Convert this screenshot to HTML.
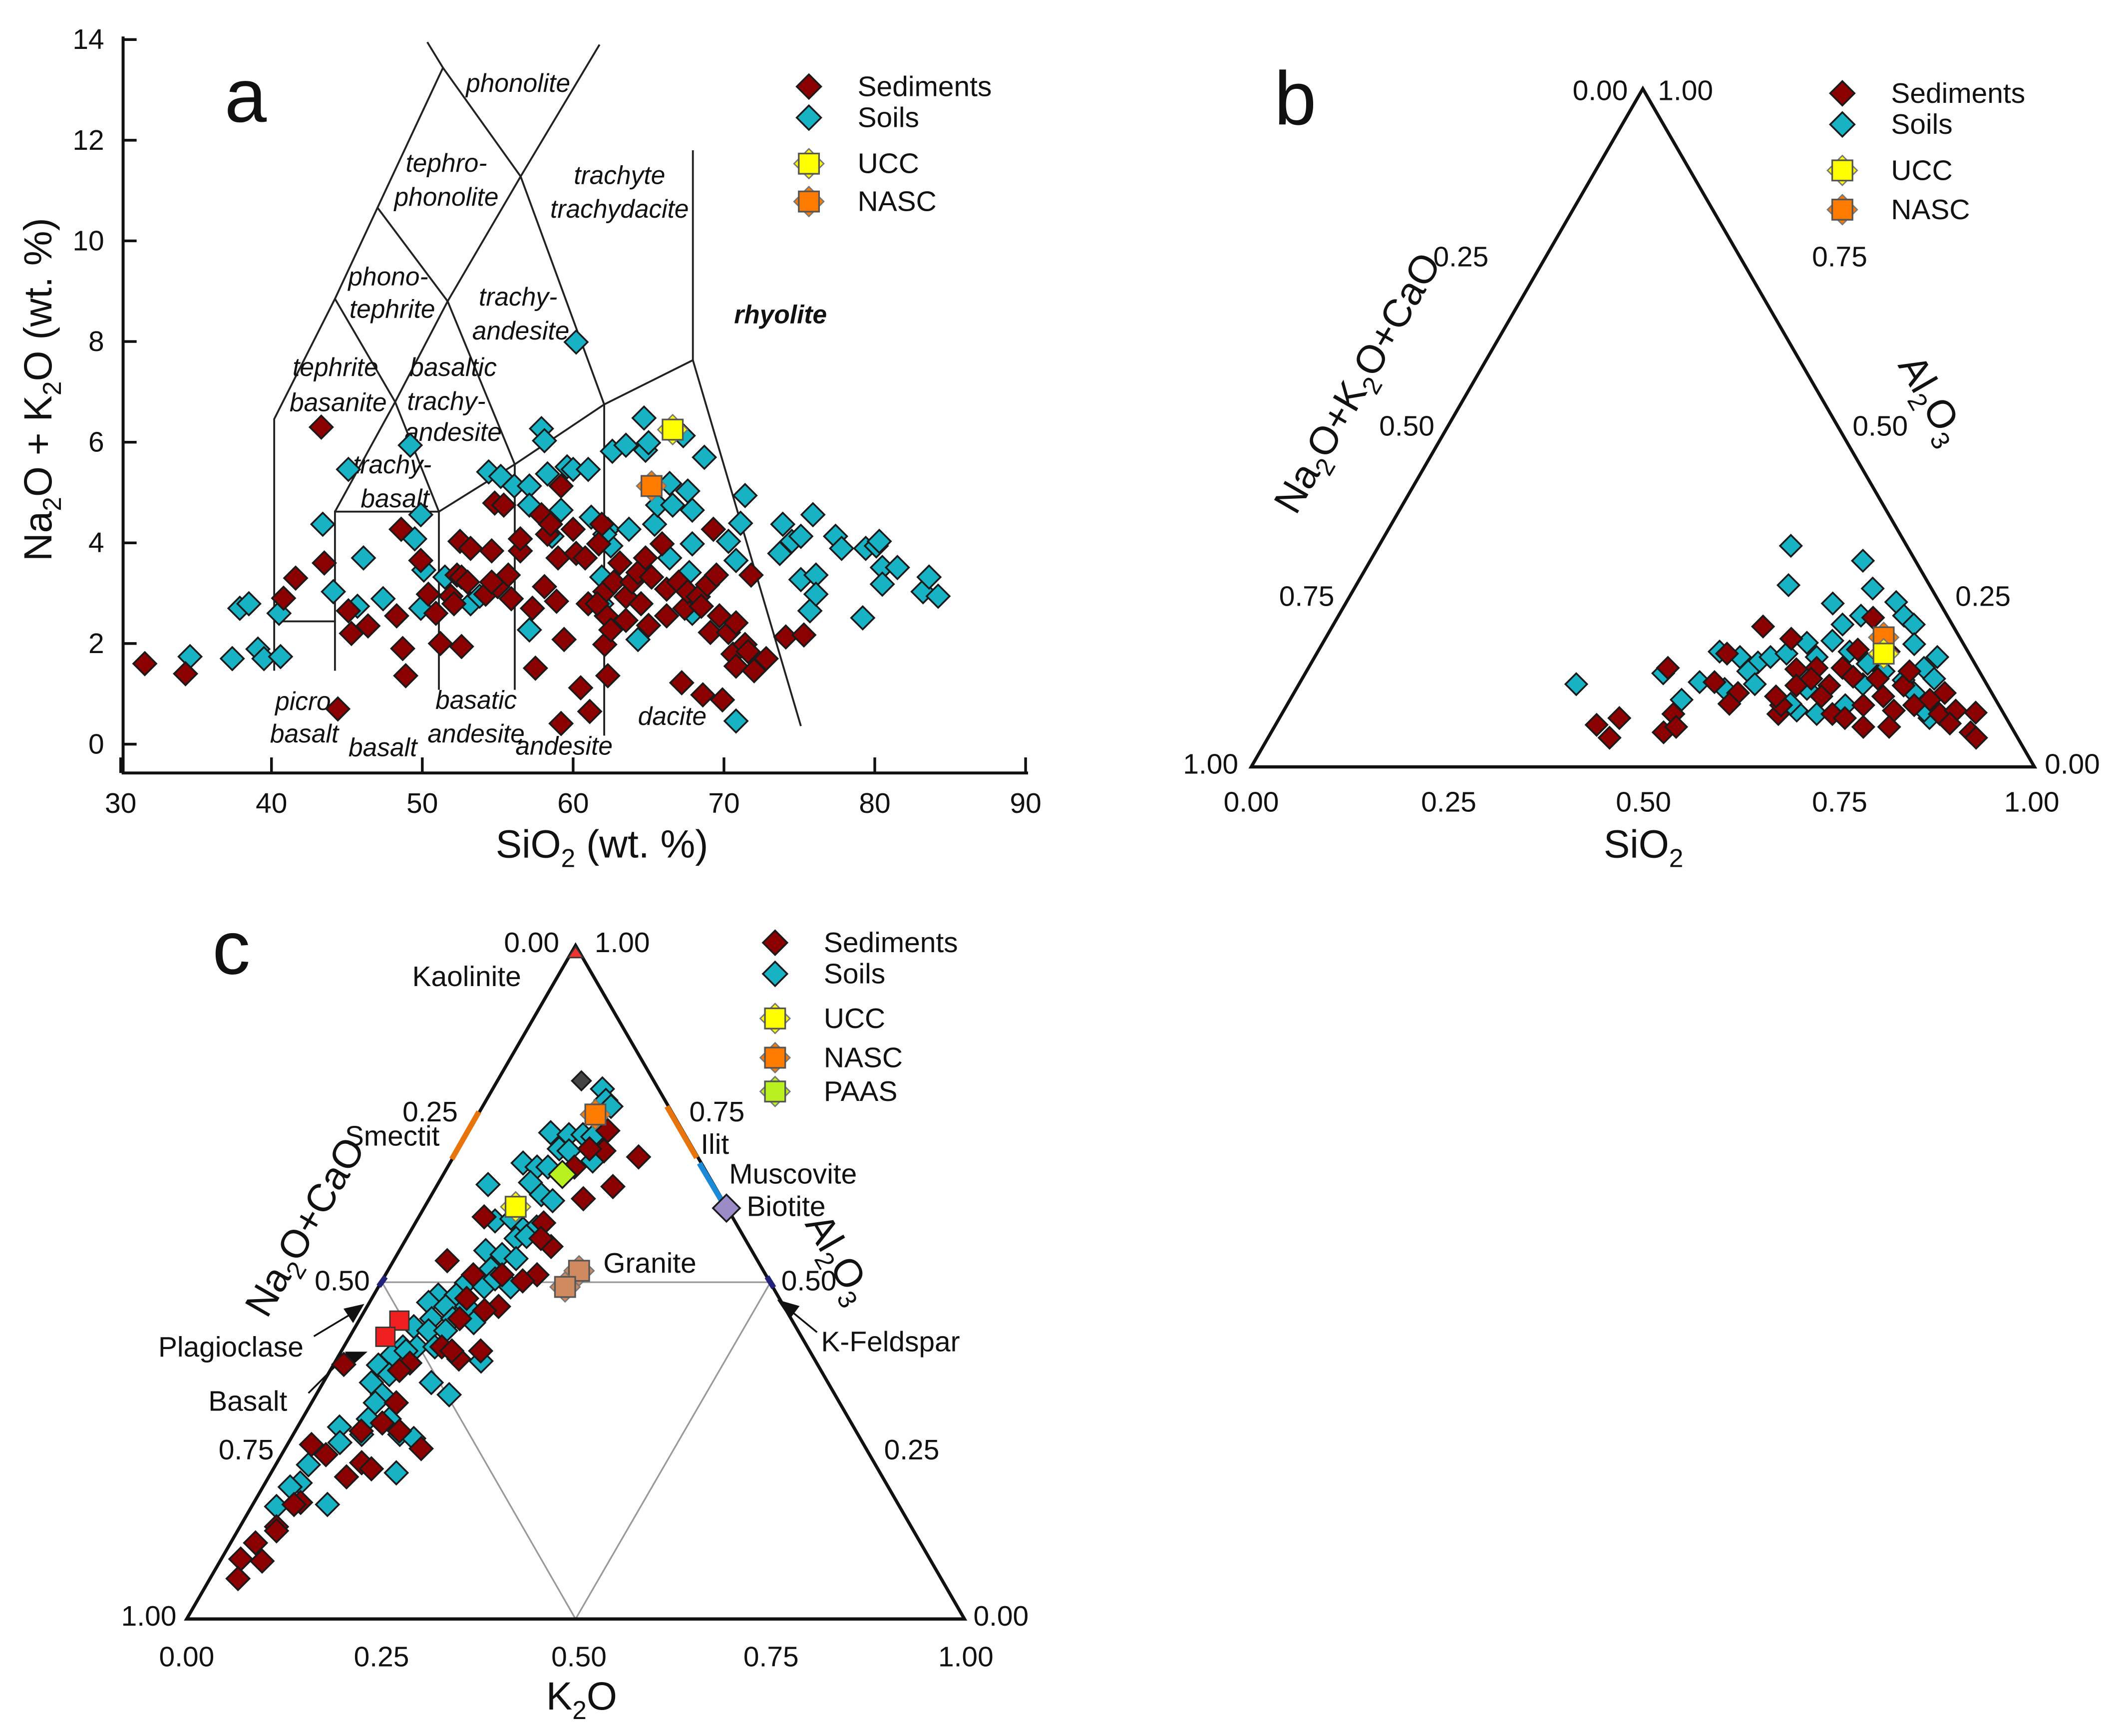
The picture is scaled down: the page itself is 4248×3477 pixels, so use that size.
<!DOCTYPE html>
<html><head><meta charset="utf-8"><title>Geochemical classification diagrams</title>
<style>
html,body{margin:0;padding:0;background:#fff;}
svg{display:block;font-family:"Liberation Sans",Arial,sans-serif;}
.tk{font-size:21px;fill:#111;}
.rl{font-size:19px;font-style:italic;fill:#111;}
.lg{font-size:21px;fill:#111;}
.ax{font-size:29px;fill:#111;}
</style></head>
<body>
<svg id="fig" xmlns="http://www.w3.org/2000/svg" width="4248" height="3477" viewBox="0 0 1568 1283.5" preserveAspectRatio="none">
<rect x="0" y="0" width="1568" height="1283.5" fill="#fff"/>

<g id="pa">
  <text x="166" y="90" font-size="56" fill="#111">a</text>
  <line x1="91" y1="27" x2="91" y2="572" stroke="#111" stroke-width="2.2"/>
  <line x1="90" y1="571.5" x2="760" y2="571.5" stroke="#111" stroke-width="2.2"/>
  <g id="pa-ticks"></g>
  <g id="pa-bound"></g>
  <g>
    <text class="rl" x="383" y="68" text-anchor="middle">phonolite</text>
    <text class="rl" x="330" y="127" text-anchor="middle">tephro-</text>
    <text class="rl" x="330" y="152" text-anchor="middle">phonolite</text>
    <text class="rl" x="458" y="136" text-anchor="middle">trachyte</text>
    <text class="rl" x="458" y="161" text-anchor="middle">trachydacite</text>
    <text class="rl" x="287" y="211" text-anchor="middle">phono-</text>
    <text class="rl" x="290" y="235" text-anchor="middle">tephrite</text>
    <text class="rl" x="383" y="226" text-anchor="middle">trachy-</text>
    <text class="rl" x="385" y="251" text-anchor="middle">andesite</text>
    <text class="rl" x="577" y="239" text-anchor="middle" font-weight="bold">rhyolite</text>
    <text class="rl" x="248" y="278" text-anchor="middle">tephrite</text>
    <text class="rl" x="250" y="304" text-anchor="middle">basanite</text>
    <text class="rl" x="335" y="278" text-anchor="middle">basaltic</text>
    <text class="rl" x="330" y="303" text-anchor="middle">trachy-</text>
    <text class="rl" x="335" y="326" text-anchor="middle">andesite</text>
    <text class="rl" x="290" y="350" text-anchor="middle">trachy-</text>
    <text class="rl" x="292" y="375" text-anchor="middle">basalt</text>
    <text class="rl" x="224" y="525" text-anchor="middle">picro</text>
    <text class="rl" x="225" y="549" text-anchor="middle">basalt</text>
    <text class="rl" x="283" y="559" text-anchor="middle">basalt</text>
    <text class="rl" x="352" y="524" text-anchor="middle">basatic</text>
    <text class="rl" x="352" y="549" text-anchor="middle">andesite</text>
    <text class="rl" x="417" y="558" text-anchor="middle">andesite</text>
    <text class="rl" x="497" y="536" text-anchor="middle">dacite</text>
  </g>
  <text class="ax" transform="translate(38,288) rotate(-90)" text-anchor="middle">Na<tspan font-size="19" dy="7">2</tspan><tspan dy="-7">O + K</tspan><tspan font-size="19" dy="7">2</tspan><tspan dy="-7">O (wt. %)</tspan></text>
  <text class="ax" x="445" y="634" text-anchor="middle">SiO<tspan font-size="19" dy="7">2</tspan><tspan dy="-7"> (wt. %)</tspan></text>
</g>

<g id="pb">
  <text x="942" y="92" font-size="56" fill="#111">b</text>
  <polygon points="925,567 1504,567 1214.5,65.6" fill="none" stroke="#111" stroke-width="2.4"/>
  <g class="tk">
    <text x="1183" y="74" text-anchor="middle">0.00</text><text x="1246" y="74" text-anchor="middle">1.00</text>
    <text x="1080" y="197" text-anchor="middle">0.25</text><text x="1040" y="322" text-anchor="middle">0.50</text><text x="966" y="448" text-anchor="middle">0.75</text><text x="895" y="572" text-anchor="middle">1.00</text>
    <text x="1360" y="197" text-anchor="middle">0.75</text><text x="1390" y="322" text-anchor="middle">0.50</text><text x="1466" y="448" text-anchor="middle">0.25</text><text x="1532" y="572" text-anchor="middle">0.00</text>
    <text x="925" y="600" text-anchor="middle">0.00</text><text x="1071" y="600" text-anchor="middle">0.25</text><text x="1215" y="600" text-anchor="middle">0.50</text><text x="1360" y="600" text-anchor="middle">0.75</text><text x="1502" y="600" text-anchor="middle">1.00</text>
  </g>
  <text class="ax" x="1215" y="634" text-anchor="middle">SiO<tspan font-size="19" dy="7">2</tspan></text>
  <text class="ax" transform="translate(1012,288) rotate(-60)" text-anchor="middle">Na<tspan font-size="19" dy="7">2</tspan><tspan dy="-7">O+K</tspan><tspan font-size="19" dy="7">2</tspan><tspan dy="-7">O+CaO</tspan></text>
  <text class="ax" transform="translate(1420,300) rotate(60)" text-anchor="middle">Al<tspan font-size="19" dy="7">2</tspan><tspan dy="-7">O</tspan><tspan font-size="19" dy="7">3</tspan></text>
</g>

<g id="pc">
  <text x="157" y="720" font-size="56" fill="#111">c</text>
  <line x1="282.4" y1="948" x2="569.6" y2="948" stroke="#999" stroke-width="1.2"/>
  <line x1="282.4" y1="948" x2="425.5" y2="1197" stroke="#999" stroke-width="1.2"/>
  <line x1="569.6" y1="948" x2="425.5" y2="1197" stroke="#999" stroke-width="1.2"/>
  <polygon points="138,1197 713,1197 425.5,699" fill="none" stroke="#111" stroke-width="2.4"/>
  <line x1="334" y1="857" x2="354" y2="822" stroke="#e8740c" stroke-width="4"/>
  <line x1="493" y1="818" x2="515" y2="856" stroke="#e8740c" stroke-width="4"/>
  <line x1="517" y1="860" x2="533" y2="887" stroke="#1a8ad8" stroke-width="4"/>
  <line x1="280" y1="951" x2="285" y2="944" stroke="#22227a" stroke-width="4"/>
  <line x1="567" y1="944" x2="572" y2="952" stroke="#22227a" stroke-width="4"/>
  <polygon points="425.5,700 420,708 431,708" fill="#e33" stroke="#333" stroke-width="1"/>
  <g class="tk">
    <text x="393" y="704" text-anchor="middle">0.00</text><text x="460" y="704" text-anchor="middle">1.00</text>
    <text x="318" y="829" text-anchor="middle">0.25</text><text x="253" y="954" text-anchor="middle">0.50</text><text x="182" y="1079" text-anchor="middle">0.75</text><text x="110" y="1202" text-anchor="middle">1.00</text>
    <text x="530" y="829" text-anchor="middle">0.75</text><text x="598" y="954" text-anchor="middle">0.50</text><text x="674" y="1079" text-anchor="middle">0.25</text><text x="740" y="1202" text-anchor="middle">0.00</text>
    <text x="138" y="1232" text-anchor="middle">0.00</text><text x="282" y="1232" text-anchor="middle">0.25</text><text x="428" y="1232" text-anchor="middle">0.50</text><text x="570" y="1232" text-anchor="middle">0.75</text><text x="714" y="1232" text-anchor="middle">1.00</text>
  </g>
  <text class="ax" x="430" y="1264" text-anchor="middle">K<tspan font-size="19" dy="7">2</tspan><tspan dy="-7">O</tspan></text>
  <text class="ax" transform="translate(234,912) rotate(-60)" text-anchor="middle">Na<tspan font-size="19" dy="7">2</tspan><tspan dy="-7">O+CaO</tspan></text>
  <text class="ax" transform="translate(612,935) rotate(60)" text-anchor="middle">Al<tspan font-size="19" dy="7">2</tspan><tspan dy="-7">O</tspan><tspan font-size="19" dy="7">3</tspan></text>
  <g class="lg">
    <text x="345" y="729" text-anchor="middle">Kaolinite</text>
    <text x="290" y="847" text-anchor="middle">Smectit</text>
    <text x="518" y="853">Ilit</text>
    <text x="539" y="875">Muscovite</text>
    <text x="552" y="899">Biotite</text>
    <text x="446" y="941">Granite</text>
    <text x="117" y="1003">Plagioclase</text>
    <text x="154" y="1043">Basalt</text>
    <text x="607" y="999">K-Feldspar</text>
  </g>
  <g stroke="#111" stroke-width="1.3" fill="#111">
    <line x1="232" y1="988" x2="262" y2="970"/><polygon points="268,965 255,968 261,977"/>
    <line x1="228" y1="1030" x2="250" y2="1008"/><polygon points="270,1000 256,1000 259,1010"/>
    <line x1="604" y1="985" x2="582" y2="967"/><polygon points="576,962 584,974 590,966"/>
  </g>
</g>
<g id="marks"></g>
</svg>
<script>
const aYTicks = [0,2,4,6,8,10,12,14];
const aXTicks = [30,40,50,60,70,80,90];
const aSediments = [[31.6,1.6],[34.3,1.4],[40.8,2.9],[41.6,3.3],[43.3,6.3],[43.5,3.6],[44.4,0.7],[45.1,2.65],[45.3,2.2],[46.4,2.35],[48.3,2.55],[48.6,4.27],[48.7,1.9],[48.9,1.36],[49.9,3.65],[50.4,2.98],[50.9,2.6],[51.2,2.0],[52.6,1.94],[52.5,4.03],[53.2,3.89],[54.6,3.84],[54.8,4.79],[55.4,4.75],[52.3,3.36],[52.6,3.32],[53.0,3.22],[51.9,2.94],[52.1,2.79],[54.2,2.98],[55.0,3.13],[55.7,3.36],[55.9,2.89],[54.6,3.22],[56.5,3.84],[56.5,4.08],[57.3,2.7],[57.5,1.51],[57.9,4.56],[58.1,3.13],[58.3,4.17],[58.5,4.37],[59.0,3.7],[59.2,5.13],[58.9,2.84],[59.4,2.08],[60.0,4.27],[60.2,3.79],[60.5,1.12],[61.0,2.79],[61.1,0.65],[60.8,3.7],[59.2,0.41],[61.9,4.37],[61.7,3.98],[62.1,3.03],[62.2,2.55],[62.1,1.98],[62.3,1.36],[62.5,2.27],[62.7,3.22],[63.1,3.6],[63.5,2.93],[63.9,3.22],[64.3,3.41],[64.5,2.79],[64.8,3.7],[65.0,2.36],[65.2,3.32],[65.9,3.98],[66.2,3.08],[66.2,2.55],[67.0,3.22],[67.2,1.22],[67.4,2.7],[67.6,3.03],[68.3,2.93],[68.6,0.98],[68.9,3.17],[69.1,2.22],[69.3,4.27],[69.5,3.36],[69.7,2.55],[69.9,0.88],[70.3,2.22],[70.8,2.41],[70.6,1.79],[70.8,1.55],[71.4,1.98],[71.6,1.84],[72.0,1.46],[72.8,1.7],[71.8,3.36],[74.1,2.13],[75.3,2.17],[68.5,2.74],[63.5,2.46],[61.6,2.79]];
const aSoils = [[34.6,1.74],[37.4,1.7],[37.9,2.7],[38.5,2.79],[39.1,1.89],[39.5,1.7],[40.5,2.6],[40.6,1.74],[43.4,4.37],[44.1,3.03],[45.1,5.46],[45.7,2.74],[46.1,3.7],[47.4,2.89],[49.2,5.94],[49.5,4.08],[49.9,4.56],[49.9,2.7],[50.1,3.46],[53.2,2.79],[54.4,5.41],[55.2,5.32],[56.1,5.13],[57.1,5.13],[57.1,4.75],[57.1,2.27],[57.9,6.27],[58.1,6.03],[58.3,5.37],[58.6,4.13],[59.2,4.65],[59.6,5.51],[60.2,7.99],[60.0,5.46],[61.0,5.46],[61.2,4.51],[62.3,4.27],[62.5,3.94],[62.6,5.82],[63.5,5.94],[63.7,4.27],[64.3,2.08],[64.7,6.48],[64.8,5.84],[65.0,5.99],[65.4,4.37],[65.6,4.75],[66.4,3.7],[66.4,5.18],[66.6,4.75],[67.3,6.13],[67.6,5.03],[67.7,3.41],[67.9,4.65],[67.9,3.98],[68.7,5.7],[70.3,4.03],[70.8,3.65],[71.1,4.39],[71.4,4.94],[70.8,0.46],[73.7,3.79],[73.9,4.37],[74.5,4.03],[75.1,4.13],[75.1,3.27],[75.7,2.65],[75.9,4.56],[76.1,3.36],[76.1,2.98],[77.4,4.13],[77.8,3.89],[79.2,2.51],[79.4,3.89],[80.1,3.94],[80.3,4.03],[80.5,3.51],[80.5,3.18],[81.5,3.51],[83.2,3.03],[83.6,3.32],[84.2,2.94],[61.9,3.32],[61.9,2.79],[62.1,4.17],[67.9,2.6],[51.5,3.32],[53.8,2.94]];
const aUCC = [66.6,6.25];
const aNASC = [65.2,5.13];
const tasBoundaries = [
 [[40.18,1.46],[40.18,6.46],[44.21,8.85],[47.03,10.66],[51.37,13.44],[50.33,13.95]],
 [[40.18,2.44],[44.21,2.44]],
 [[44.21,1.46],[44.21,4.62],[51.10,4.62]],
 [[51.10,1.08],[51.10,4.62],[56.13,5.56],[62.06,6.75],[67.94,7.63],[75.10,0.36]],
 [[56.13,1.08],[56.13,5.56]],
 [[62.06,0.17],[62.06,6.75]],
 [[67.94,7.63],[67.94,11.80]],
 [[44.21,8.85],[48.20,6.80],[51.10,4.62]],
 [[44.21,4.62],[48.20,6.80],[51.68,8.80],[56.52,11.28],[61.75,13.9]],
 [[47.03,10.66],[51.68,8.80],[56.13,5.56]],
 [[51.37,13.44],[56.52,11.28],[62.06,6.75]]
];
const bSediments = [[0.550,0.207],[0.684,0.220],[0.595,0.189],[0.624,0.144],[0.649,0.146],[0.682,0.146],[0.688,0.173],[0.729,0.170],[0.524,0.167],[0.459,0.146],[0.529,0.125],[0.567,0.109],[0.564,0.093],[0.500,0.078],[0.501,0.051],[0.410,0.062],[0.434,0.072],[0.436,0.043],[0.513,0.059],[0.634,0.078],[0.631,0.091],[0.636,0.120],[0.678,0.120],[0.676,0.104],[0.703,0.078],[0.722,0.072],[0.752,0.059],[0.755,0.104],[0.779,0.083],[0.785,0.059],[0.773,0.120],[0.817,0.099],[0.831,0.109],[0.840,0.078],[0.858,0.083],[0.885,0.080],[0.893,0.051],[0.904,0.043],[0.770,0.141],[0.735,0.130],[0.650,0.130],[0.736,0.091],[0.801,0.091],[0.860,0.064],[0.618,0.104],[0.702,0.133]];
const bSoils = [[0.526,0.326],[0.629,0.304],[0.552,0.268],[0.662,0.263],[0.622,0.241],[0.702,0.243],[0.667,0.223],[0.722,0.223],[0.650,0.210],[0.741,0.210],[0.618,0.183],[0.649,0.186],[0.756,0.181],[0.795,0.162],[0.513,0.170],[0.543,0.162],[0.570,0.154],[0.582,0.162],[0.641,0.162],[0.679,0.170],[0.711,0.152],[0.786,0.146],[0.457,0.138],[0.510,0.125],[0.564,0.141],[0.582,0.122],[0.720,0.122],[0.769,0.128],[0.652,0.115],[0.792,0.109],[0.547,0.115],[0.500,0.099],[0.713,0.091],[0.655,0.083],[0.683,0.078],[0.830,0.072],[0.642,0.093],[0.818,0.083],[0.354,0.122],[0.600,0.167],[0.737,0.141],[0.807,0.130]];
const bUCC = [0.724,0.167];
const bNASC = [0.712,0.191];
const cSediments = [[0.179,0.725],[0.189,0.695],[0.238,0.686],[0.227,0.642],[0.198,0.624],[0.165,0.588],[0.084,0.597],[0.192,0.553],[0.173,0.565],[0.069,0.532],[0.113,0.511],[0.150,0.511],[0.195,0.511],[0.181,0.502],[0.169,0.464],[0.154,0.458],[0.122,0.476],[0.128,0.446],[0.157,0.386],[0.126,0.404],[0.142,0.398],[0.179,0.398],[0.097,0.380],[0.089,0.369],[0.013,0.378],[0.109,0.321],[0.085,0.279],[0.106,0.291],[0.134,0.279],[0.175,0.253],[0.031,0.259],[0.057,0.244],[0.109,0.232],[0.126,0.223],[0.100,0.211],[0.060,0.173],[0.053,0.170],[0.047,0.137],[0.050,0.131],[0.032,0.113],[0.025,0.089],[0.054,0.086],[0.036,0.060],[0.163,0.671],[0.169,0.698]];
const cSoils = [[0.141,0.787],[0.154,0.770],[0.165,0.761],[0.107,0.722],[0.132,0.719],[0.150,0.719],[0.164,0.716],[0.130,0.698],[0.094,0.677],[0.115,0.671],[0.129,0.671],[0.144,0.695],[0.182,0.680],[0.065,0.645],[0.118,0.648],[0.141,0.630],[0.160,0.621],[0.101,0.591],[0.121,0.594],[0.143,0.579],[0.159,0.582],[0.141,0.565],[0.153,0.568],[0.111,0.547],[0.135,0.541],[0.131,0.520],[0.156,0.535],[0.110,0.499],[0.136,0.493],[0.144,0.505],[0.170,0.493],[0.083,0.481],[0.106,0.481],[0.076,0.470],[0.101,0.464],[0.128,0.464],[0.092,0.446],[0.119,0.446],[0.149,0.440],[0.075,0.434],[0.097,0.428],[0.119,0.428],[0.076,0.404],[0.094,0.404],[0.117,0.404],[0.187,0.383],[0.068,0.392],[0.058,0.377],[0.079,0.363],[0.139,0.351],[0.171,0.333],[0.062,0.351],[0.085,0.333],[0.082,0.321],[0.085,0.297],[0.112,0.297],[0.054,0.285],[0.088,0.274],[0.066,0.262],[0.137,0.274],[0.158,0.268],[0.161,0.217],[0.042,0.229],[0.045,0.202],[0.035,0.196],[0.032,0.167],[0.096,0.170],[0.083,0.398]];
const cOther = [0.108,0.799];
const cUCC = [0.117,0.612];
const cNASC = [0.151,0.749];
const cPAAS = [0.153,0.660];
const cGranite = [[0.246,0.517],[0.240,0.493]];
const cPlagioclase = [[0.052,0.443],[0.046,0.419]];
const cBiotite = [0.389,0.610];

const NS = 'http://www.w3.org/2000/svg';
const SED = '#8b0000', SOIL = '#17b2c4';
function xA(v){ return 89.2 + (v-30)*11.15; }
function yA(v){ return 550.2 - v*37.21; }
function xB(si,al){ return 925 + 579*(si + al/2); }
function yB(si,al){ return 567 - 501.4*al; }
function xC(k,al){ return 138 + 575*(k + al/2); }
function yC(k,al){ return 1197 - 498*al; }

function el(tag, parent){ const e = document.createElementNS(NS, tag); parent.appendChild(e); return e; }
function diamond(parent, cx, cy, r, fill, name){
  const p = el('polygon', parent);
  p.setAttribute('points', `${cx},${cy-r} ${cx+r},${cy} ${cx},${cy+r} ${cx-r},${cy}`);
  p.setAttribute('fill', fill);
  p.setAttribute('stroke', '#1a1a1a');
  p.setAttribute('stroke-width', '1.3');
  
  
  return p;
}
function refMark(parent, cx, cy, fill, name){
  const g = el('g', parent);
  
  
  const d = el('polygon', g);
  d.setAttribute('points', `${cx},${cy-11} ${cx+11},${cy} ${cx},${cy+11} ${cx-11},${cy}`);
  d.setAttribute('fill', fill); d.setAttribute('stroke', '#777'); d.setAttribute('stroke-width', '1');
  const s = el('rect', g);
  s.setAttribute('x', cx-7.5); s.setAttribute('y', cy-7.5); s.setAttribute('width', 15); s.setAttribute('height', 15);
  s.setAttribute('fill', fill); s.setAttribute('stroke', '#555'); s.setAttribute('stroke-width', '1.2');
  return g;
}
function legend(parent, x, items){
  items.forEach(it => {
    const g = el('g', parent);
    
    
    if (it.type === 'd') diamond(g, x, it.y, 9, it.fill, 'legend-marker');
    else refMark(g, x, it.y, it.fill, 'legend-marker');
    const t = el('text', g);
    t.setAttribute('x', x + 36); t.setAttribute('y', it.y + 7);
    t.setAttribute('class', 'lg');
    t.textContent = it.label;
  });
}

const tk = document.getElementById('pa-ticks');
aYTicks.forEach(v => {
  const l = el('line', tk);
  l.setAttribute('x1', 91); l.setAttribute('x2', 101); l.setAttribute('y1', yA(v)); l.setAttribute('y2', yA(v));
  l.setAttribute('stroke', '#111'); l.setAttribute('stroke-width', '2');
  
  
  const t = el('text', tk);
  t.setAttribute('x', 77); t.setAttribute('y', yA(v) + 7); t.setAttribute('text-anchor', 'end'); t.setAttribute('class', 'tk');
  
  
  t.textContent = v;
});
aXTicks.forEach(v => {
  const l = el('line', tk);
  l.setAttribute('x1', xA(v)); l.setAttribute('x2', xA(v)); l.setAttribute('y1', 571.5); l.setAttribute('y2', 560);
  l.setAttribute('stroke', '#111'); l.setAttribute('stroke-width', '2');
  
  
  const t = el('text', tk);
  t.setAttribute('x', xA(v)); t.setAttribute('y', 601); t.setAttribute('text-anchor', 'middle'); t.setAttribute('class', 'tk');
  
  
  t.textContent = v;
});
const bd = document.getElementById('pa-bound');
tasBoundaries.forEach(seg => {
  const p = el('polyline', bd);
  p.setAttribute('points', seg.map(q => xA(q[0]) + ',' + yA(q[1])).join(' '));
  p.setAttribute('fill', 'none'); p.setAttribute('stroke', '#222'); p.setAttribute('stroke-width', '1.4');
  
  
});

const M = document.getElementById('marks');
const ga = el('g', M);


aSoils.forEach(d => diamond(ga, xA(d[0]), yA(d[1]), 8.5, SOIL, 'soil-point'));
aSediments.forEach(d => diamond(ga, xA(d[0]), yA(d[1]), 8.5, SED, 'sediment-point'));
refMark(ga, xA(aUCC[0]), yA(aUCC[1]), '#ffff00', 'ucc-point');
refMark(ga, xA(aNASC[0]), yA(aNASC[1]), '#ff7b00', 'nasc-point');
const la = el('g', M);


legend(la, 598, [{type:'d',fill:SED,label:'Sediments',y:64},{type:'d',fill:SOIL,label:'Soils',y:87},{type:'r',fill:'#ffff00',label:'UCC',y:121},{type:'r',fill:'#ff7b00',label:'NASC',y:149}]);

const gb = el('g', M);


bSoils.forEach(d => diamond(gb, xB(d[0],d[1]), yB(d[0],d[1]), 8, SOIL, 'soil-point'));
bSediments.forEach(d => diamond(gb, xB(d[0],d[1]), yB(d[0],d[1]), 8, SED, 'sediment-point'));
refMark(gb, xB(bNASC[0],bNASC[1]), yB(bNASC[0],bNASC[1]), '#ff7b00', 'nasc-point');
refMark(gb, xB(bUCC[0],bUCC[1]), yB(bUCC[0],bUCC[1]), '#ffff00', 'ucc-point');
const lb = el('g', M);


legend(lb, 1362, [{type:'d',fill:SED,label:'Sediments',y:69},{type:'d',fill:SOIL,label:'Soils',y:92},{type:'r',fill:'#ffff00',label:'UCC',y:126},{type:'r',fill:'#ff7b00',label:'NASC',y:155}]);

const gc = el('g', M);


cSoils.forEach(d => diamond(gc, xC(d[0],d[1]), yC(d[0],d[1]), 8.5, SOIL, 'soil-point'));
cSediments.forEach(d => diamond(gc, xC(d[0],d[1]), yC(d[0],d[1]), 8.5, SED, 'sediment-point'));
diamond(gc, xC(cOther[0],cOther[1]), yC(cOther[0],cOther[1]), 7, '#444', 'other-point');
cGranite.forEach(d => refMark(gc, xC(d[0],d[1]), yC(d[0],d[1]), '#d08a60', 'granite-point'));
cPlagioclase.forEach(d => {
  const r = el('rect', gc);
  r.setAttribute('x', xC(d[0],d[1]) - 7); r.setAttribute('y', yC(d[0],d[1]) - 7); r.setAttribute('width', 14); r.setAttribute('height', 14);
  r.setAttribute('fill', '#f02020'); r.setAttribute('stroke', '#333'); r.setAttribute('stroke-width', '1');
  
  
});
diamond(gc, xC(cBiotite[0],cBiotite[1]), yC(cBiotite[0],cBiotite[1]), 10, '#9b8cc8', 'biotite-point');
refMark(gc, xC(cUCC[0],cUCC[1]), yC(cUCC[0],cUCC[1]), '#ffff00', 'ucc-point');
refMark(gc, xC(cNASC[0],cNASC[1]), yC(cNASC[0],cNASC[1]), '#ff7b00', 'nasc-point');
diamond(gc, xC(cPAAS[0],cPAAS[1]), yC(cPAAS[0],cPAAS[1]), 10, '#b8f020', 'paas-point');
const lc = el('g', M);


legend(lc, 573, [{type:'d',fill:SED,label:'Sediments',y:697},{type:'d',fill:SOIL,label:'Soils',y:720},{type:'r',fill:'#ffff00',label:'UCC',y:753},{type:'r',fill:'#ff7b00',label:'NASC',y:782},{type:'r',fill:'#b8f020',label:'PAAS',y:807}]);
</script>
</body></html>
